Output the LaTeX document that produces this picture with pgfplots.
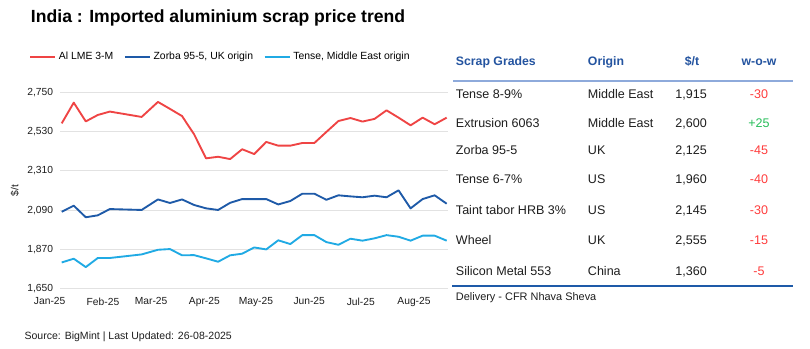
\documentclass[border=0pt]{standalone}
\usepackage{pgfplots}
\usepackage{pgfplotstable}
\pgfplotsset{compat=1.18}
\usepackage{fontspec}
\setmainfont{Liberation Sans}
\definecolor{lme}{RGB}{239,68,68}
\definecolor{zorba}{RGB}{30,90,168}
\definecolor{tense}{RGB}{32,170,228}
\definecolor{hdr}{RGB}{36,84,160}
\definecolor{hline}{RGB}{142,170,219}
\definecolor{neg}{RGB}{255,60,60}
\definecolor{pos}{RGB}{40,190,90}
\definecolor{txt}{RGB}{30,30,30}
\definecolor{gridc}{RGB}{226,226,226}

\pgfplotstableread{
d red blue lblue
7 2576 2081 1797
14 2692 2115 1818
21 2587 2050 1771
28 2623 2061 1822
35 2642 2096 1822
53.5 2612 2091 1842
63 2696 2150 1868
70 2657 2130 1872
77 2617 2150 1837
84 2515 2119 1838
91 2380 2100 1820
98 2389 2091 1801
105 2376 2131 1837
112 2431 2152 1846
119 2404 2152 1881
126 2472 2152 1870
133 2451 2122 1921
140 2451 2141 1900
147 2466 2182 1950
154 2466 2182 1950
161 2528 2148 1911
168 2589 2173 1896
175 2606 2167 1930
182 2586 2162 1919
189 2601 2171 1932
196 2649 2162 1950
203 2608 2201 1941
210 2565 2100 1919
217 2608 2152 1947
224 2571 2173 1947
231 2608 2126 1919
}\datatab

\newcommand\tickfont{\fontsize{7.7}{9}\selectfont}
\newcommand\rowfont{\fontsize{9.4}{11}\selectfont}
\newcommand\trow[6]{%
  \node[anchor=base west] at (455.7,#1) {#2};
  \node[anchor=base west] at (587.7,#1) {#3};
  \node[anchor=base east] at (707,#1) {#4};
  \node[anchor=base, text=#6] at (759,#1) {#5};}

\begin{document}
\begin{tikzpicture}
\path[use as bounding box, fill=white] (0,0) rectangle (607.5pt,261.75pt);
\begin{axis}[
  at={(45pt,45.225pt)}, anchor=south west,
  width=291.3pt, height=147.3pt, scale only axis,
  xmin=6, xmax=232, ymin=1650, ymax=2750,
  axis line style={draw=none},
  major tick length=0pt,
  xtick={31,59,90,120,151,181,212},
  xticklabels={Feb-25,Mar-25,Apr-25,May-25,Jun-25,Jul-25,Aug-25},
  ytick={1650,1870,2090,2310,2530,2750},
  /pgf/number format/.cd, fixed, precision=0, 1000 sep={,}, assume math mode=true, /pgfplots/.cd,
  tick label style={font=\tickfont, text=txt},
  xticklabel style={anchor=north, inner sep=0pt, yshift=-6.5pt},
  yticklabel style={anchor=east, inner sep=0pt, xshift=-5pt},
  ymajorgrids, grid style={gridc, line width=0.9pt},
  clip=false,
  legend style={at={(rel axis cs:-0.079,1.181)}, anchor=west, draw=none, fill=none,
    font=\fontsize{7.8}{9}\selectfont, inner sep=0pt, outer sep=0pt,
    /tikz/every even column/.append style={column sep=6pt}},
  legend columns=3,
  legend cell align=left,
  legend image code/.code={\draw[#1, line width=1.5pt] (0pt,0pt) -- (18.75pt,0pt);},
]
\addplot[lme, line width=1.4pt, line join=round] table[x=d, y=red] {\datatab};
\addlegendentry{Al LME 3-M}
\addplot[zorba, line width=1.4pt, line join=round] table[x=d, y=blue] {\datatab};
\addlegendentry{Zorba 95-5, UK origin}
\addplot[tense, line width=1.4pt, line join=round] table[x=d, y=lblue] {\datatab};
\addlegendentry{Tense, Middle East origin}
\node[font=\tickfont, text=txt, anchor=north, inner sep=0pt, yshift=-6.5pt] at (axis cs:0,1650) {Jan-25};
\end{axis}
\node[rotate=90, font=\tickfont, text=txt] at (11.25pt,118.9pt) {\$/t};
\begin{scope}[x=0.75pt, y=-0.75pt, yshift=261.75pt]
\node[anchor=base west, inner sep=0pt, font=\bfseries\fontsize{13.2}{15}\selectfont, text=black] at (30.7,22.7) {India : Imported aluminium scrap price trend};
\node[anchor=base west, inner sep=0pt, font=\fontsize{7.9}{9}\selectfont, text=txt] at (24.3,340) {Source: BigMint | Last Updated: 26-08-2025};
% table header
\begin{scope}[every node/.style={inner sep=0pt, font=\bfseries\fontsize{9.2}{11}\selectfont, text=hdr}]
\node[anchor=base west] at (455.7,66) {Scrap Grades};
\node[anchor=base west] at (587.7,66) {Origin};
\node[anchor=base] at (692,66) {\$/t};
\node[anchor=base] at (759,66) {w-o-w};
\end{scope}
\draw[hline, line width=1.5pt] (453.3,80.7) -- (793.3,80.7);
\begin{scope}[every node/.style={inner sep=0pt, font=\rowfont, text=txt}]
\trow{98.3}{Tense 8-9\%}{Middle East}{1,915}{-30}{neg}
\trow{127.3}{Extrusion 6063}{Middle East}{2,600}{+25}{pos}
\trow{155}{Zorba 95-5}{UK}{2,125}{-45}{neg}
\trow{183.3}{Tense 6-7\%}{US}{1,960}{-40}{neg}
\trow{214.3}{Taint tabor HRB 3\%}{US}{2,145}{-30}{neg}
\trow{245}{Wheel}{UK}{2,555}{-15}{neg}
\trow{275.7}{Silicon Metal 553}{China}{1,360}{-5}{neg}
\end{scope}
\draw[zorba, line width=0.9pt] (452,286) -- (793,286);
\node[anchor=base west, inner sep=0pt, font=\fontsize{8.2}{10}\selectfont, text=txt] at (455.7,300.7) {Delivery - CFR Nhava Sheva};
\end{scope}
\end{tikzpicture}
\end{document}
